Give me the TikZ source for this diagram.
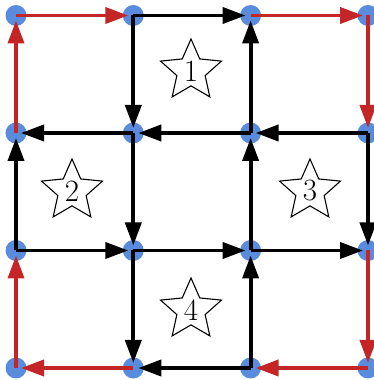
\documentclass[tikz,border=0pt]{standalone}
\usetikzlibrary{arrows.meta,shapes.geometric}
\definecolor{dotblue}{RGB}{90,140,222}
\definecolor{edgered}{RGB}{196,38,40}
\begin{document}
\begin{tikzpicture}[x=1pt,y=1pt,
 dot/.style={circle,fill=dotblue,inner sep=0pt,minimum size=21pt},
 edge/.style={line width=3.8pt,-{Triangle[length=23pt,width=16pt]},shorten >=5pt},
 bk/.style={edge,draw=black},
 rd/.style={edge,draw=edgered,fill=edgered},
 starnode/.style={star,star points=5,star point ratio=2.15,draw,line width=1.1pt,inner sep=0pt,minimum size=64pt,font=\fontsize{31}{31}\selectfont}]
\useasboundingbox (0,0) rectangle (374,380);
\foreach \i/\x in {0/16,1/133.3,2/250.6,3/368}
  \foreach \j/\y in {0/364.5,1/247,2/129.5,3/12}
    \node[dot] (p\i\j) at (\x,\y) {};
% stars
\node[starnode] (s1) at (191,309) {1};
\node[starnode] (s2) at (72,189) {2};
\node[starnode] (s3) at (310,189) {3};
\node[starnode] (s4) at (191,70) {4};
% black edges
\draw[bk] (p10.center) -- (p20.center);
\draw[bk] (p10.center) -- (p11.center);
\draw[bk] (p21.center) -- (p20.center);
\draw[bk] (p11.center) -- (p01.center);
\draw[bk] (p21.center) -- (p11.center);
\draw[bk] (p31.center) -- (p21.center);
\draw[bk] (p02.center) -- (p01.center);
\draw[bk] (p11.center) -- (p12.center);
\draw[bk] (p22.center) -- (p21.center);
\draw[bk] (p31.center) -- (p32.center);
\draw[bk] (p02.center) -- (p12.center);
\draw[bk] (p12.center) -- (p22.center);
\draw[bk] (p22.center) -- (p32.center);
\draw[bk] (p12.center) -- (p13.center);
\draw[bk] (p23.center) -- (p22.center);
\draw[bk] (p23.center) -- (p13.center);
% red edges
\draw[rd] (p01.center) -- (p00.center);
\draw[rd] (p00.center) -- (p10.center);
\draw[rd] (p20.center) -- (p30.center);
\draw[rd] (p30.center) -- (p31.center);
\draw[rd] (p32.center) -- (p33.center);
\draw[rd] (p33.center) -- (p23.center);
\draw[rd] (p13.center) -- (p03.center);
\draw[rd] (p03.center) -- (p02.center);
\end{tikzpicture}
\end{document}
